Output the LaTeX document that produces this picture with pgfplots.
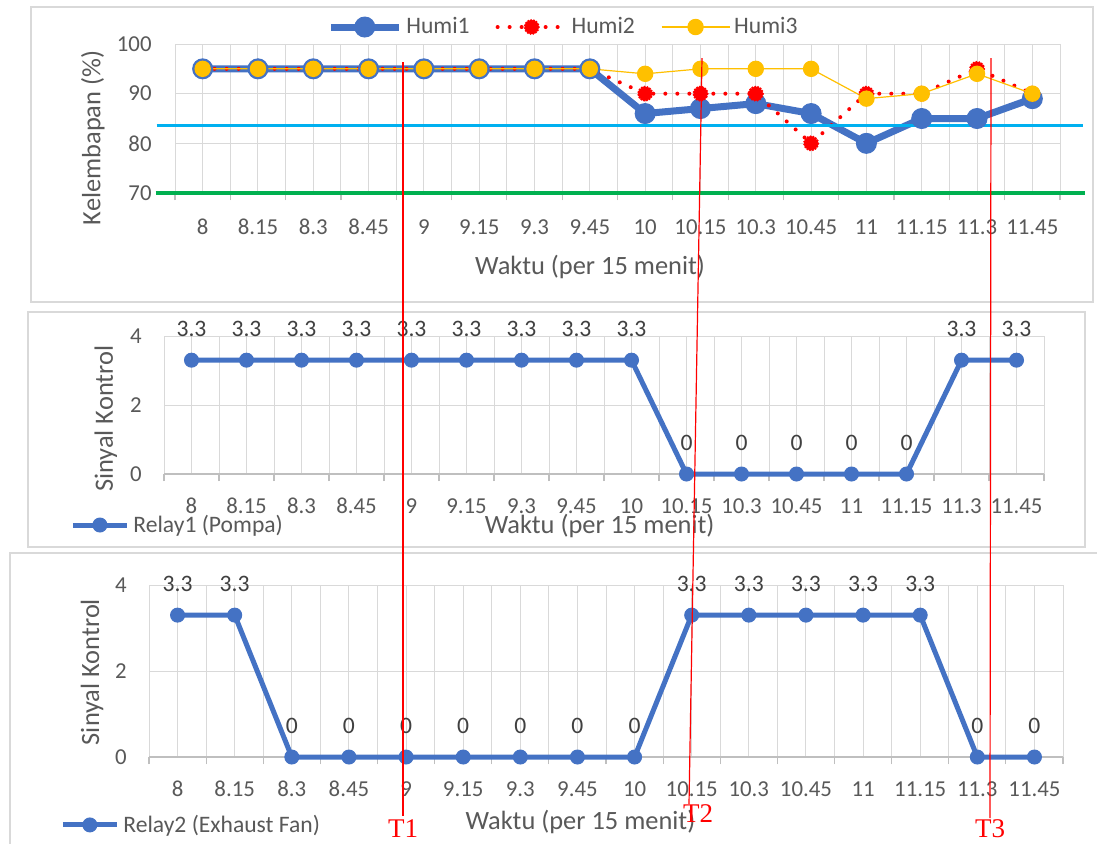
\documentclass[border=0pt]{standalone}
\usepackage{pgfplots}
\pgfplotsset{compat=1.18}
\usepackage{fontspec}
\setmainfont{Carlito}
\newfontfamily\tnr{Liberation Serif}

\definecolor{exblue}{RGB}{68,114,196}
\definecolor{exred}{RGB}{255,0,0}
\definecolor{exgold}{RGB}{255,192,0}
\definecolor{excyan}{RGB}{0,176,240}
\definecolor{exgreen}{RGB}{0,176,80}
\definecolor{gridgray}{RGB}{217,217,217}
\definecolor{axisgray}{RGB}{191,191,191}
\definecolor{txtgray}{RGB}{89,89,89}
\definecolor{lblgray}{RGB}{64,64,64}

% one pixel of the reference = 0.5pt
\pgfplotsset{
  excel/.style={
    scale only axis,
    anchor=south west,
    xmin=-0.5, xmax=15.5,
    xtick={0,...,15},
    xticklabels={8,8.15,8.3,8.45,9,9.15,9.3,9.45,10,10.15,10.3,10.45,11,11.15,11.3,11.45},
    minor xtick={-0.5,0.5,...,15.5},
    grid=both,
    major grid style={gridgray, line width=0.5pt},
    minor grid style={gridgray, line width=0.5pt},
    major tick length=0pt,
    minor tick length=3.5pt,
    tick align=outside,
    axis x line*=bottom,
    axis y line*=left,
    x axis line style={axisgray, line width=0.6pt},
    y axis line style={draw=none},
    every minor tick/.append style={axisgray, line width=0.6pt},
    /pgf/number format/assume math mode=true,
    tick label style={font=\fontsize{11.4}{13}\selectfont, text=txtgray},
    label style={font=\fontsize{13.2}{15}\selectfont, text=txtgray},
    legend style={font=\fontsize{11.8}{14}\selectfont, text=txtgray,
      draw=none, fill=none, inner sep=0pt},
    legend cell align=left,
    clip=false,
  },
  relay/.style={
    ymin=0, ymax=4, ytick={0,2,4},
    yticklabel style={anchor=east, inner sep=0pt, xshift=-11pt},
    xticklabel style={anchor=center, yshift=-16pt},
    xlabel={Waktu (per 15 menit)}, ylabel={Sinyal Kontrol},
    legend image code/.code={\draw[mark repeat=2,mark phase=2,##1]
      plot coordinates {(0pt,0pt) (13.5pt,0pt) (27pt,0pt)};},
  },
  relayline/.style={exblue, line width=2.5pt, mark=*, mark size=3.5pt,
    mark options={fill=exblue, draw=exblue, line width=0.5pt},
    nodes near coords,
    every node near coord/.append style={anchor=center, yshift=15.5pt,
      font=\fontsize{11.8}{14}\selectfont, text=lblgray}},
}

\begin{document}
\begin{tikzpicture}
\useasboundingbox (0,0) rectangle (548.5pt,-421.5pt);
\fill[white] (0,0) rectangle (548.5pt,-421.5pt);
\draw[gridgray, line width=0.6pt] (15.5pt,-3.5pt) rectangle (546.5pt,-151pt);
\draw[gridgray, line width=0.6pt] (14pt,-156pt) rectangle (542.5pt,-273.5pt);
\draw[gridgray, line width=0.6pt] (5pt,-276.5pt) rectangle (560pt,-440pt);

% humidity
\begin{axis}[excel, at={(87.5pt,-96.5pt)}, width=442.5pt, height=74.5pt,
  ymin=70, ymax=100, ytick={70,80,90,100},
  yticklabel style={anchor=east, inner sep=0pt, xshift=-11.5pt},
  xticklabel style={anchor=center, yshift=-17pt},
  xlabel={Waktu (per 15 menit)}, ylabel={Kelembapan (\%)},
  xlabel style={at={(axis description cs:0.469,-0.497)}, anchor=center},
  ylabel style={at={(axis description cs:-0.0927,0.37)}, anchor=center},
  legend columns=3,
  legend style={at={(axis description cs:0.44,1.114)}, anchor=center,
    /tikz/every even column/.append style={column sep=11pt}},
  legend image code/.code={\draw[mark repeat=2,mark phase=2,#1]
    plot coordinates {(0pt,0pt) (17pt,0pt) (34pt,0pt)};},
]
\addplot[exblue, line width=3.5pt, mark=*, mark size=5pt,
  mark options={fill=exblue, draw=exblue, line width=0.5pt}] coordinates {
  (0,95) (1,95) (2,95) (3,95) (4,95) (5,95) (6,95) (7,95)
  (8,86) (9,87) (10,88) (11,86) (12,80) (13,85) (14,85) (15,89)};
\addlegendentry{Humi1}
\addplot[exred, line width=2pt, line cap=round, dash pattern=on 0pt off 6pt,
  mark=*, mark size=3.4pt,
  mark options={fill=exred, draw=exred, line width=1.4pt, dash pattern=on 0pt off 1.4pt}] coordinates {
  (0,95) (1,95) (2,95) (3,95) (4,95) (5,95) (6,95) (7,95)
  (8,90) (9,90) (10,90) (11,80) (12,90) (13,90) (14,95) (15,90)};
\addlegendentry{Humi2}
\addplot[exgold, line width=0.6pt, mark=*, mark size=3.8pt,
  mark options={fill=exgold, draw=exgold}] coordinates {
  (0,95) (1,95) (2,95) (3,95) (4,95) (5,95) (6,95) (7,95)
  (8,94) (9,95) (10,95) (11,95) (12,89) (13,90) (14,94) (15,90)};
\addlegendentry{Humi3}
\addplot[excyan, line width=1.8pt, forget plot] coordinates {(-0.83,83.6) (15.92,83.6)};
\addplot[exgreen, line width=1.8pt, forget plot] coordinates {(-0.85,70) (15.95,70)};
\end{axis}

% relay 1
\begin{axis}[excel, relay, at={(82pt,-237pt)}, width=440pt, height=69pt,
  xlabel style={at={(axis description cs:0.495,-0.377)}, anchor=center},
  ylabel style={at={(axis description cs:-0.066,0.4)}, anchor=center},
  legend style={at={(axis description cs:-0.1068,-0.3696)}, anchor=west},
]
\addplot[relayline] coordinates {
  (0,3.3) (1,3.3) (2,3.3) (3,3.3) (4,3.3) (5,3.3) (6,3.3) (7,3.3) (8,3.3)
  (9,0) (10,0) (11,0) (12,0) (13,0) (14,3.3) (15,3.3)};
\addlegendentry{Relay1 (Pompa)}
\end{axis}

% relay 2
\begin{axis}[excel, relay, at={(74.5pt,-378.5pt)}, width=457pt, height=86pt,
  xlabel style={at={(axis description cs:0.472,-0.378)}, anchor=center},
  ylabel style={at={(axis description cs:-0.0624,0.494)}, anchor=center},
  legend style={at={(axis description cs:-0.0974,-0.395)}, anchor=west},
]
\addplot[relayline] coordinates {
  (0,3.3) (1,3.3) (2,0) (3,0) (4,0) (5,0) (6,0) (7,0) (8,0)
  (9,3.3) (10,3.3) (11,3.3) (12,3.3) (13,3.3) (14,0) (15,0)};
\addlegendentry{Relay2 (Exhaust Fan)}
\end{axis}

% time markers
\draw[red, line width=0.6pt] (201.5pt,-31pt) -- (201.5pt,-408pt);
\draw[red, line width=0.6pt] (351pt,-29pt) -- (344.5pt,-402pt);
\draw[red, line width=0.6pt] (495.5pt,-29pt) -- (495pt,-409pt);
\node[red, font=\tnr\fontsize{13.5}{15}\selectfont, anchor=north, inner sep=0pt] at (201.5pt,-409.5pt) {T1};
\node[red, font=\tnr\fontsize{13.5}{15}\selectfont, anchor=north, inner sep=0pt] at (349pt,-402pt) {T2};
\node[red, font=\tnr\fontsize{13.5}{15}\selectfont, anchor=north, inner sep=0pt] at (495pt,-409.5pt) {T3};
\end{tikzpicture}
\end{document}
